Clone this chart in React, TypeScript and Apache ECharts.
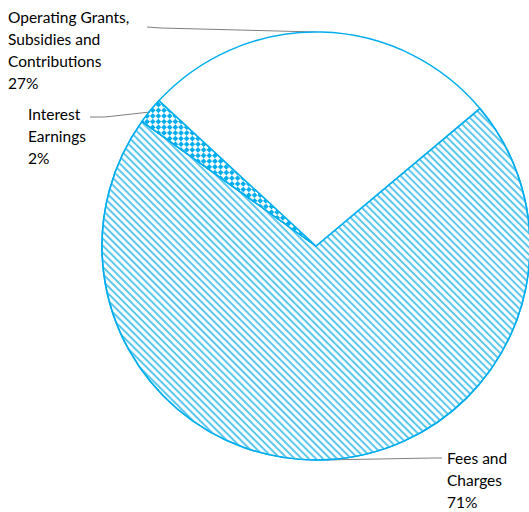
import React, { useEffect, useRef } from "react";
import * as echarts from "echarts";

const categories = ["Fees and Charges", "Interest Earnings", "Operating Grants, Subsidies and Contributions"];
const labelTexts = ["Fees and\nCharges\n71%", "Interest\nEarnings\n2%", "Operating Grants,\nSubsidies and\nContributions\n27%"];
const values = [71, 2, 27];

export default function App() {
  const ref = useRef<HTMLDivElement>(null);
  useEffect(() => {
    const chart = echarts.init(ref.current!, null, { renderer: "svg" });
    const blue = "#00AEEF";
    const styles = [
      {
        color: "#ffffff",
        borderColor: blue,
        borderWidth: 1.5,
        decal: {
          symbol: "rect",
          symbolSize: 1,
          color: "#5CC8F0",
          dashArrayX: [1, 0],
          dashArrayY: [2, 3],
          rotation: Math.PI / 4,
        },
      },
      {
        color: blue,
        borderColor: blue,
        borderWidth: 1.5,
        decal: {
          symbol: "rect",
          symbolSize: 1,
          color: "#ffffff",
          dashArrayX: [[4, 4], [0, 4, 4, 0]],
          dashArrayY: [4, 0],
          rotation: Math.PI / 4,
        },
      },
      { color: "#ffffff", borderColor: blue, borderWidth: 1.5 },
    ];
    const layouts = [
      { x: 447, y: 447, pts: [[323, 460], [433, 458], [442, 458]] },
      { x: 28, y: 103, pts: [[150, 112], [105, 117], [90, 117]] },
      { x: 8, y: 6, pts: [[316, 32], [161, 28], [147, 27]] },
    ];
    chart.setOption({
      animation: false,
      series: [
        {
          type: "pie",
          center: [316, 246],
          radius: 214,
          startAngle: 40,
          clockwise: true,
          data: categories.map((c, i) => ({
            name: c,
            value: values[i],
            itemStyle: styles[i],
            label: { formatter: labelTexts[i] },
          })),
          label: {
            show: true,
            position: "outside",
            color: "#000000",
            fontFamily: "Lato",
            fontSize: 15.5,
            lineHeight: 22,
            align: "left",
            verticalAlign: "top",
          },
          labelLine: { show: true, lineStyle: { color: "#7F7F7F", width: 1 } },
          labelLayout: (p: any) => {
            const l = layouts[p.dataIndex];
            return { x: l.x, y: l.y, align: "left", verticalAlign: "top", labelLinePoints: l.pts };
          },
          emphasis: { disabled: true },
        },
      ],
    });
    return () => chart.dispose();
  }, []);
  return <div ref={ref} style={{ position: "absolute", left: 0, top: 0, width: 529, height: 512 }} />;
}
